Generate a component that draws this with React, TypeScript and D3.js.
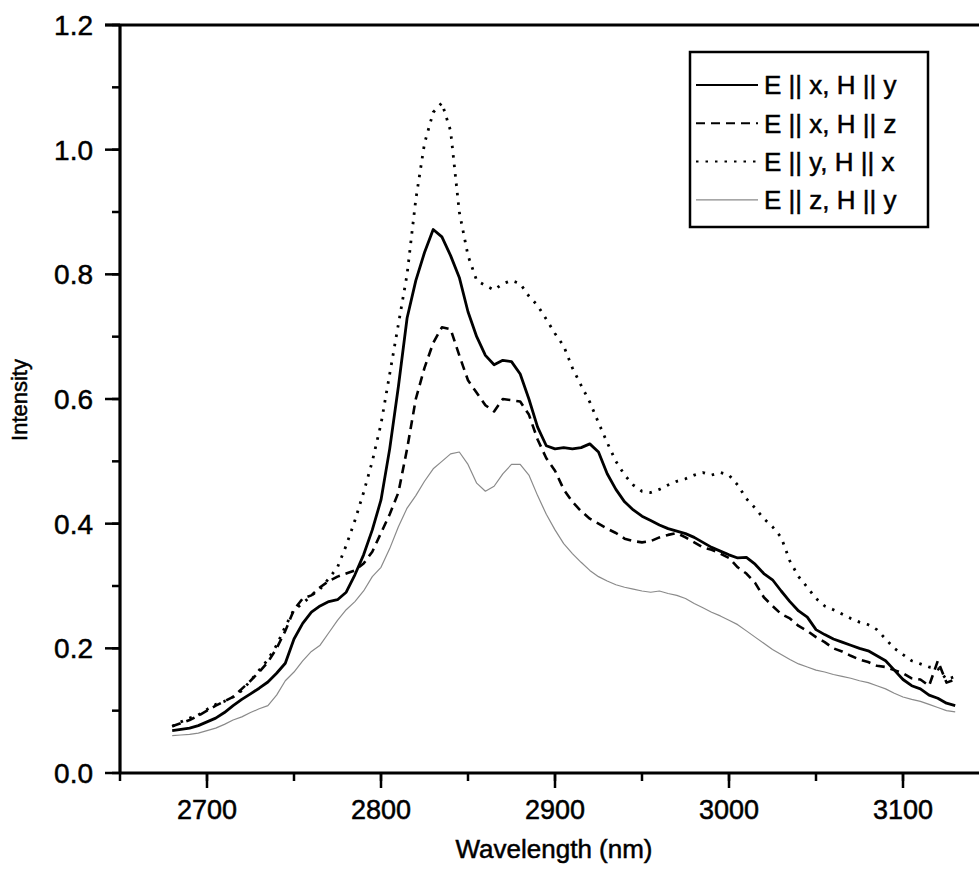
import React from "react";
import * as d3 from "d3";

const wavelengths: number[] = d3.range(2680, 3131, 5);

const exHy: number[] = [
  0.068, 0.070, 0.072, 0.076, 0.082, 0.088, 0.097, 0.108, 0.118, 0.127,
  0.136, 0.146, 0.160, 0.176, 0.215, 0.240, 0.258, 0.268, 0.275, 0.278,
  0.290, 0.318, 0.350, 0.390, 0.438, 0.520, 0.620, 0.730, 0.790, 0.835,
  0.872, 0.860, 0.830, 0.795, 0.740, 0.700, 0.670, 0.655, 0.662, 0.660,
  0.640, 0.600, 0.555, 0.525, 0.520, 0.522, 0.520, 0.522, 0.528, 0.515,
  0.480, 0.455, 0.435, 0.422, 0.412, 0.405, 0.398, 0.392, 0.388, 0.384,
  0.378, 0.370, 0.362, 0.356, 0.350, 0.345, 0.346, 0.335, 0.320, 0.310,
  0.292, 0.275, 0.260, 0.250, 0.230, 0.222, 0.215, 0.210, 0.205, 0.200,
  0.196, 0.188, 0.180, 0.165, 0.150, 0.140, 0.135, 0.125, 0.120, 0.112,
  0.108,
];

const exHz: number[] = [
  0.075, 0.080, 0.085, 0.092, 0.100, 0.108, 0.115, 0.122, 0.135, 0.148,
  0.162, 0.178, 0.200, 0.228, 0.262, 0.280, 0.285, 0.298, 0.308, 0.315,
  0.320, 0.325, 0.336, 0.355, 0.385, 0.415, 0.450, 0.520, 0.600, 0.650,
  0.690, 0.715, 0.712, 0.670, 0.630, 0.610, 0.590, 0.580, 0.600, 0.598,
  0.596, 0.575, 0.535, 0.505, 0.485, 0.455, 0.435, 0.420, 0.408, 0.400,
  0.392, 0.385, 0.376, 0.372, 0.370, 0.372, 0.378, 0.382, 0.385, 0.378,
  0.370, 0.362, 0.358, 0.352, 0.345, 0.330, 0.320, 0.305, 0.282, 0.268,
  0.255, 0.248, 0.236, 0.228, 0.218, 0.210, 0.200, 0.195, 0.188, 0.182,
  0.178, 0.172, 0.170, 0.165, 0.160, 0.152, 0.150, 0.140, 0.180, 0.145,
  0.150,
];

const eyHx: number[] = [
  0.075, 0.082, 0.088, 0.093, 0.102, 0.110, 0.115, 0.122, 0.132, 0.148,
  0.165, 0.182, 0.205, 0.235, 0.262, 0.272, 0.285, 0.295, 0.312, 0.330,
  0.365, 0.405, 0.450, 0.500, 0.560, 0.640, 0.720, 0.800, 0.920, 1.010,
  1.060, 1.075, 1.030, 0.900, 0.830, 0.790, 0.782, 0.775, 0.785, 0.790,
  0.785, 0.765, 0.750, 0.728, 0.705, 0.685, 0.650, 0.622, 0.595, 0.562,
  0.530, 0.500, 0.478, 0.462, 0.452, 0.450, 0.455, 0.462, 0.468, 0.472,
  0.478, 0.482, 0.478, 0.482, 0.478, 0.462, 0.440, 0.425, 0.408, 0.395,
  0.378, 0.340, 0.315, 0.298, 0.280, 0.268, 0.262, 0.255, 0.248, 0.242,
  0.238, 0.230, 0.215, 0.200, 0.190, 0.180, 0.175, 0.170, 0.168, 0.150,
  0.155,
];

const ezHy: number[] = [
  0.060, 0.061, 0.062, 0.064, 0.068, 0.072, 0.078, 0.085, 0.090, 0.097,
  0.103, 0.108, 0.125, 0.148, 0.162, 0.180, 0.195, 0.205, 0.225, 0.245,
  0.262, 0.275, 0.292, 0.315, 0.330, 0.360, 0.395, 0.425, 0.445, 0.468,
  0.488, 0.500, 0.512, 0.515, 0.495, 0.465, 0.452, 0.460, 0.480, 0.495,
  0.495, 0.478, 0.445, 0.415, 0.390, 0.368, 0.352, 0.338, 0.325, 0.315,
  0.308, 0.302, 0.298, 0.295, 0.292, 0.290, 0.292, 0.288, 0.285, 0.280,
  0.272, 0.265, 0.258, 0.252, 0.245, 0.238, 0.228, 0.218, 0.208, 0.198,
  0.190, 0.182, 0.175, 0.170, 0.165, 0.162, 0.158, 0.155, 0.152, 0.148,
  0.145, 0.140, 0.135, 0.128, 0.122, 0.118, 0.115, 0.110, 0.105, 0.100,
  0.098,
];

const seriesLabels = ["E || x, H || y", "E || x, H || z", "E || y, H || x", "E || z, H || y"];
const xTicks = [2700, 2800, 2900, 3000, 3100];
const yTicks = [0.0, 0.2, 0.4, 0.6, 0.8, 1.0, 1.2];

const W = 979;
const H = 871;
const left = 120;
const right = 990;
const top = 25;
const bottom = 773;
const FONT = "'Liberation Sans', Arial, sans-serif";

export default function App() {
  const x = d3.scaleLinear().domain([2650, 3150]).range([left, right]);
  const y = d3.scaleLinear().domain([0, 1.2]).range([bottom, top]);
  const line = (vals: number[]) =>
    d3
      .line<number>()
      .x((_, i) => x(wavelengths[i]))
      .y((v) => y(v))(vals) as string;

  const styles = [
    { data: exHy, stroke: "#000", width: 2.8, dash: "none" },
    { data: exHz, stroke: "#000", width: 2.6, dash: "9,6" },
    { data: eyHx, stroke: "#000", width: 2.8, dash: "2.5,7" },
    { data: ezHy, stroke: "#8a8a8a", width: 1.2, dash: "none" },
  ];

  const xMinor = d3.range(2650, 3151, 50);
  const yMinor = d3.range(0, 1.21, 0.1);

  const legX = 690;
  const legY = 52;
  const legW = 238;
  const legH = 175;
  const rowY = (i: number) => 85 + i * 38.3;
  const textStroke = { stroke: "#000", strokeWidth: 0.5 };

  return (
    <svg
      width={W}
      height={H}
      style={{ position: "absolute", left: 0, top: 0, background: "#fff" }}
      fontFamily={FONT}
    >
      <rect x={0} y={0} width={W} height={H} fill="#fff" />
      {styles.map((s, i) => (
        <path
          key={i}
          d={line(s.data)}
          fill="none"
          stroke={s.stroke}
          strokeWidth={s.width}
          strokeDasharray={s.dash}
          strokeLinejoin="round"
        />
      ))}
      {/* frame */}
      <line x1={left - 15} y1={top} x2={right} y2={top} stroke="#000" strokeWidth={3.2} />
      <line x1={left} y1={top} x2={left} y2={bottom} stroke="#000" strokeWidth={3.2} />
      <line x1={left} y1={bottom} x2={right} y2={bottom} stroke="#000" strokeWidth={3.2} />
      {/* y ticks */}
      {yMinor.map((v, i) => (
        <line key={"ym" + i} x1={left - 8} x2={left} y1={y(v)} y2={y(v)} stroke="#000" strokeWidth={2.5} />
      ))}
      {yTicks.map((v) => (
        <g key={"y" + v}>
          <line x1={left - 15} x2={left} y1={y(v)} y2={y(v)} stroke="#000" strokeWidth={2.5} />
          <text x={93} y={y(v)} dy="0.36em" textAnchor="end" fontSize={28} {...textStroke}>
            {v.toFixed(1)}
          </text>
        </g>
      ))}
      {/* x ticks */}
      {xMinor.map((v, i) => (
        <line key={"xm" + i} x1={x(v)} x2={x(v)} y1={bottom} y2={bottom + 8} stroke="#000" strokeWidth={2.5} />
      ))}
      {xTicks.map((v) => (
        <g key={"x" + v}>
          <line x1={x(v)} x2={x(v)} y1={bottom} y2={bottom + 15} stroke="#000" strokeWidth={2.5} />
          <text x={x(v)} y={819} textAnchor="middle" fontSize={27} {...textStroke}>
            {v}
          </text>
        </g>
      ))}
      <text x={554} y={858} textAnchor="middle" fontSize={26} {...textStroke}>
        Wavelength (nm)
      </text>
      <text
        transform={`translate(27, 400) rotate(-90)`}
        textAnchor="middle"
        fontSize={22}
        {...textStroke}
      >
        Intensity
      </text>
      {/* legend */}
      <rect x={legX} y={legY} width={legW} height={legH} fill="#fff" stroke="#000" strokeWidth={2.5} />
      {styles.map((s, i) => (
        <g key={"leg" + i}>
          <line
            x1={legX + 6}
            x2={758}
            y1={rowY(i)}
            y2={rowY(i)}
            stroke={s.stroke}
            strokeWidth={i === 3 ? 1.2 : 2}
            strokeDasharray={s.dash}
          />
          <text x={764} y={rowY(i)} dy="0.36em" fontSize={26} {...textStroke}>
            {seriesLabels[i]}
          </text>
        </g>
      ))}
    </svg>
  );
}
